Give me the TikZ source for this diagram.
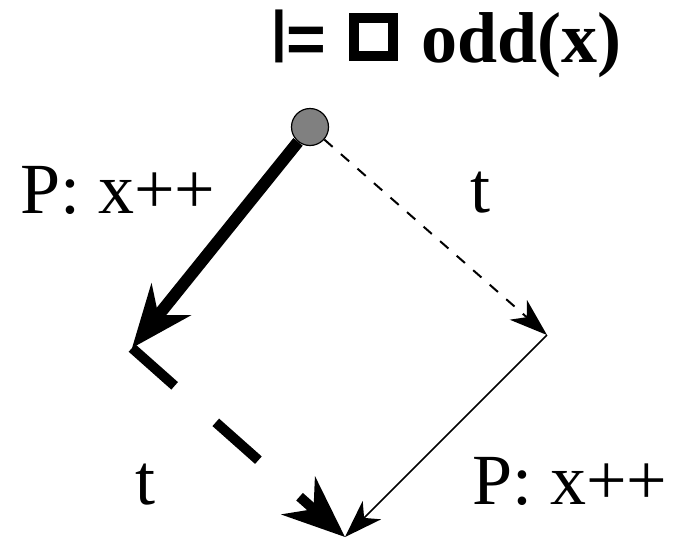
\documentclass[tikz,border=0pt]{standalone}
\usepackage{fontspec}
\setmainfont{Liberation Serif}
\newfontfamily\symfont{Liberation Sans}
\usetikzlibrary{arrows.meta}

\begin{document}
\begin{tikzpicture}[x=1pt,y=-1pt,
  lbl/.style={font=\fontsize{72}{72}\selectfont, anchor=base west, inner sep=0pt},
  bighead/.style={-{Stealth[length=62pt,width=50pt,inset=20pt]}},
  smallhead/.style={-{Stealth[length=38pt,width=26pt,inset=11pt]}}]
\useasboundingbox (0,0) rectangle (677,539);
% formula
\node[lbl, font=\fontsize{72}{72}\selectfont\bfseries] (title) at (271,62)
  {{\symfont\bfseries\fontsize{56}{56}\selectfont\raisebox{0.21em}{|}}{\symfont\bfseries\fontsize{68}{68}\selectfont=}\hspace{22pt}{\setlength\fboxrule{10pt}\setlength\fboxsep{0pt}\raisebox{11pt}{\fbox{\rule{0pt}{28pt}\hspace{29pt}}}}\hspace{24pt}odd(x)};
% states
\node[circle, draw, fill=gray, minimum size=37pt, inner sep=0pt, line width=1.2pt] (s0) at (310,127) {};
\coordinate (s1) at (132,348);
\coordinate (s2) at (547,335);
\coordinate (s3) at (345,537);
% transitions
\draw[bighead, line width=12pt] (s0) -- (s1);
\draw[bighead, line width=10pt, dash pattern=on 57pt off 55pt] (s1) -- (s3);
\draw[smallhead, line width=2pt, dash pattern=on 11pt off 11pt] (s0) -- (s2);
\draw[smallhead, line width=1.5pt] (s2) -- (s3);
% labels
\node[lbl] (lblA) at (20,213) {P: x++};
\node[lbl] (lblB) at (470,212) {t};
\node[lbl] (lblC) at (135,504) {t};
\node[lbl] (lblD) at (472,504) {P: x++};
\end{tikzpicture}
\end{document}
